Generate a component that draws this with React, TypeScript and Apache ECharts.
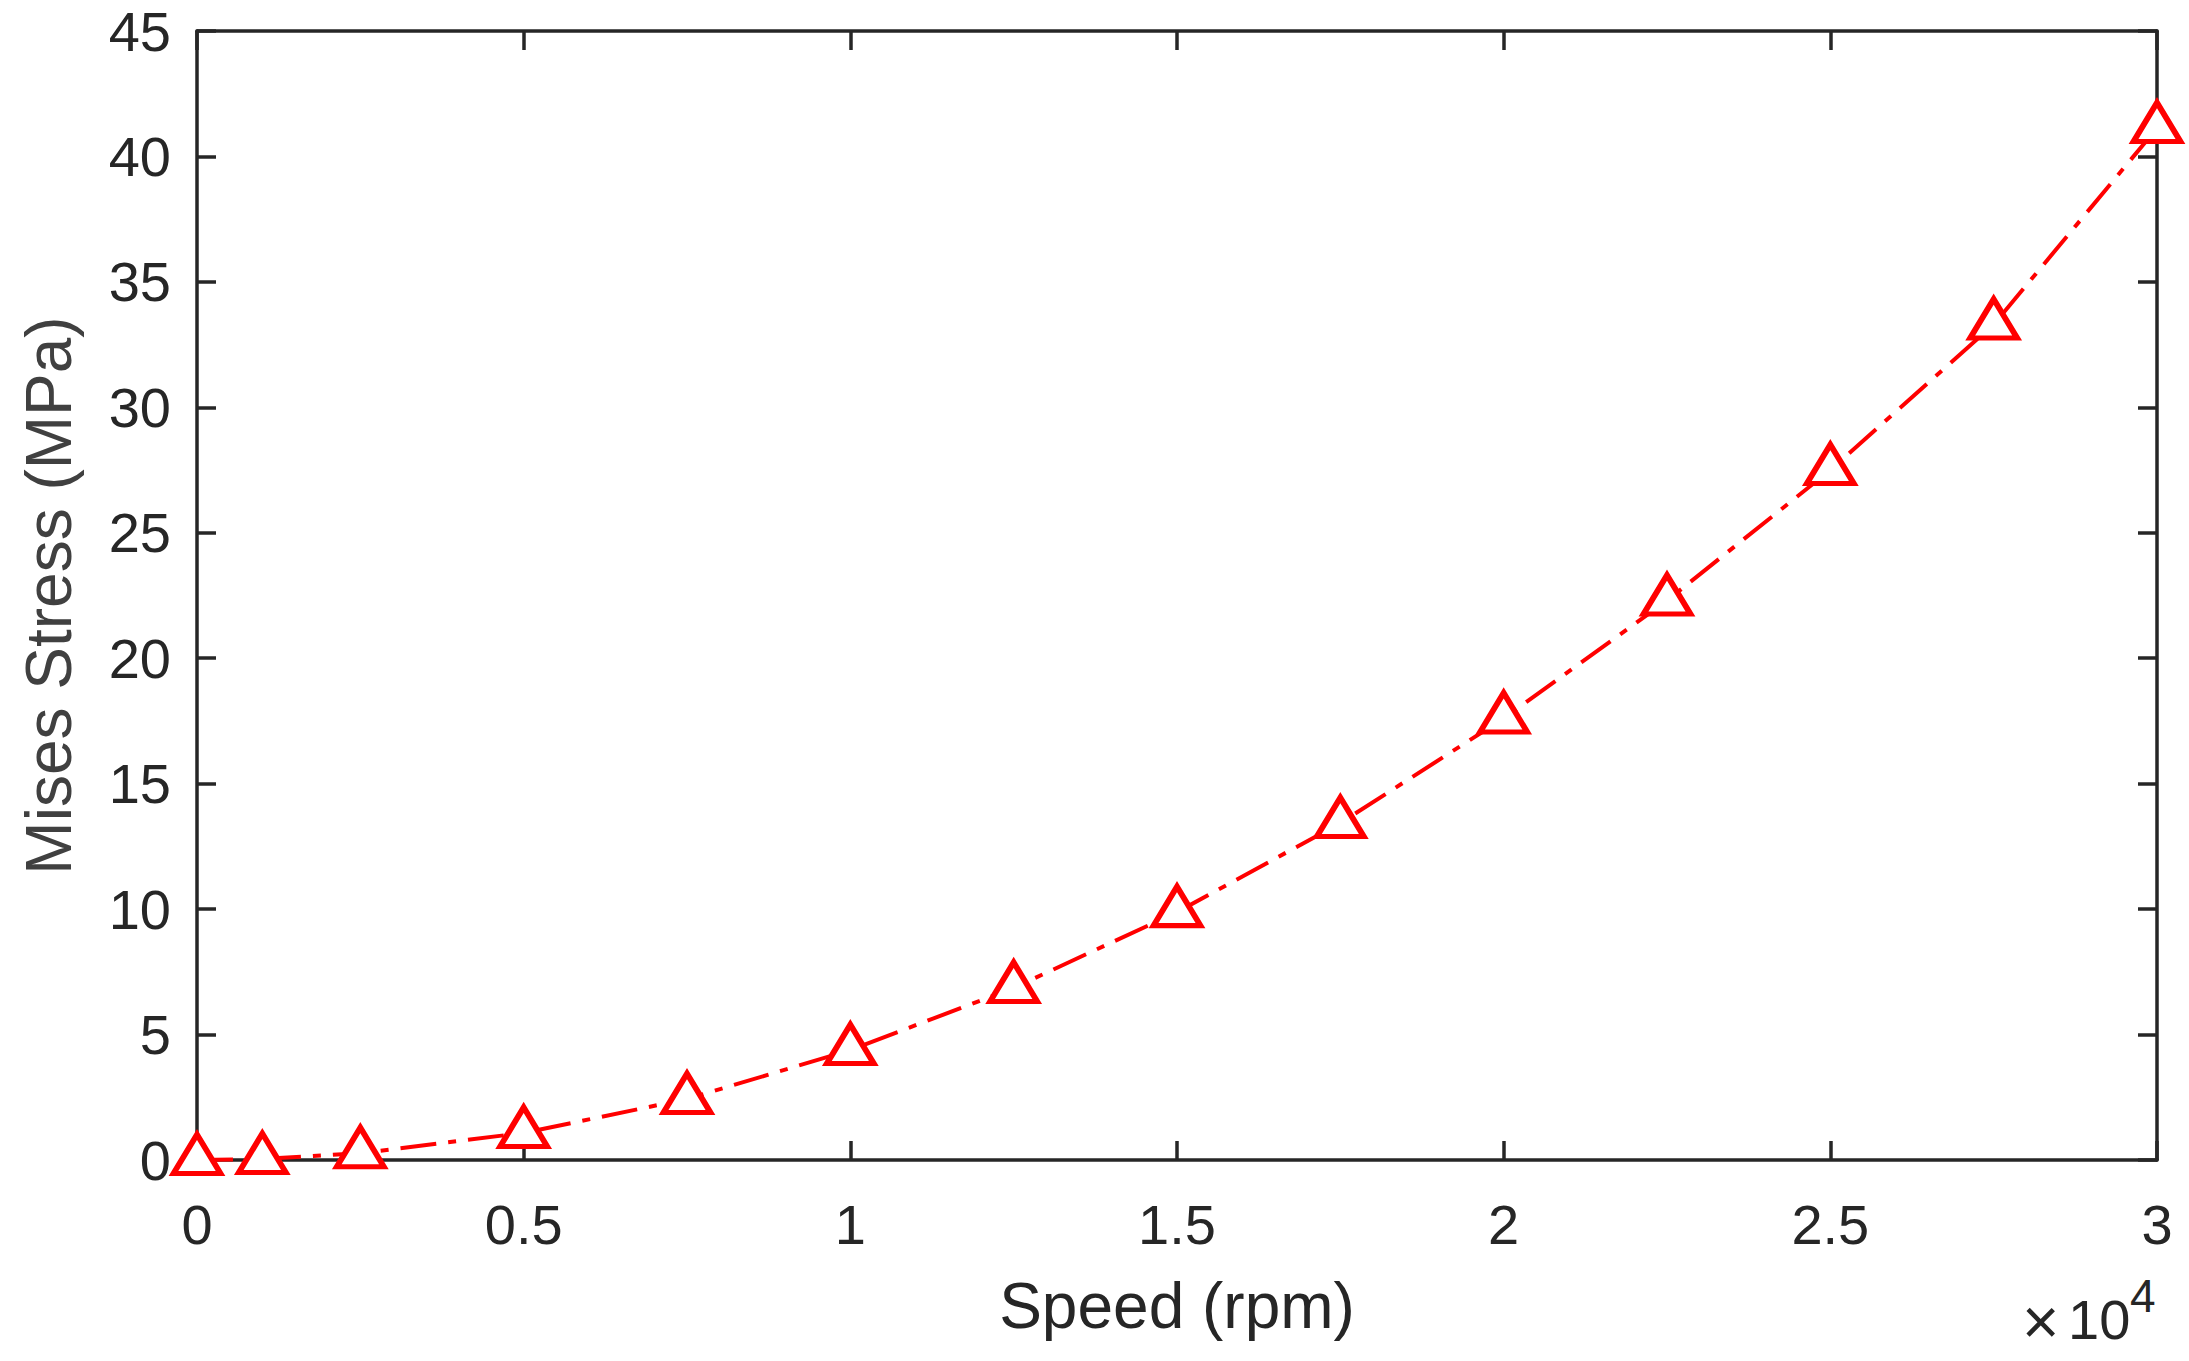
import React, { useEffect, useRef } from "react";
import * as echarts from "echarts";

const speedRpm = [0, 1000, 2500, 5000, 7500, 10000, 12500, 15000, 17500, 20000, 22500, 25000, 27500, 30000];
const stressMPa = [0, 0.04, 0.27, 1.08, 2.43, 4.38, 6.86, 9.88, 13.43, 17.6, 22.3, 27.5, 33.3, 41.13];
const xTicks = { min: 0, max: 30000, interval: 5000 };
const yTicks = { min: 0, max: 45, interval: 5 };
const xTitle = "Speed (rpm)";
const yTitle = "Mises Stress (MPa)";
const xScaleTimes = "\u00d7";
const xScaleBase = "10";
const xScaleExp = "4";

const FONT = "'Liberation Sans', Arial, Helvetica, sans-serif";
const AX = "#262626";

export default function App() {
  const ref = useRef<HTMLDivElement>(null);
  useEffect(() => {
    if (!ref.current) return;
    const chart = echarts.init(ref.current, undefined, { renderer: "svg" });
    const pts = speedRpm.map((s, i) => [s, stressMPa[i]]);
    const axisCommon = {
      axisLine: { show: true, onZero: false, lineStyle: { color: AX, width: 3.5 } },
      axisTick: { show: true, inside: true, length: 19, lineStyle: { color: AX, width: 3.5 } },
      splitLine: { show: false },
    };
    chart.setOption({
      animation: false,
      backgroundColor: "#ffffff",
      grid: { left: 197, right: 32, top: 31, bottom: 201, containLabel: false },
      xAxis: [
        {
          type: "value",
          ...xTicks,
          position: "bottom",
          ...axisCommon,
          axisLabel: {
            show: true,
            margin: 36,
            color: AX,
            fontSize: 56,
            fontFamily: FONT,
            formatter: (v: number) => String(v / 10000),
          },
          name: xTitle,
          nameLocation: "middle",
          nameGap: 114,
          nameTextStyle: { color: AX, fontSize: 64, fontFamily: FONT },
        },
        {
          type: "value",
          ...xTicks,
          position: "top",
          ...axisCommon,
          axisLabel: { show: false },
        },
      ],
      yAxis: [
        {
          type: "value",
          ...yTicks,
          position: "left",
          ...axisCommon,
          axisLabel: {
            show: true,
            margin: 26,
            color: AX,
            fontSize: 56,
            fontFamily: FONT,
          },
          name: yTitle,
          nameLocation: "middle",
          nameRotate: 90,
          nameGap: 116,
          nameTextStyle: { color: "#404040", fontSize: 64, fontFamily: FONT },
        },
        {
          type: "value",
          ...yTicks,
          position: "right",
          ...axisCommon,
          axisLabel: { show: false },
        },
      ],
      graphic: [
        {
          type: "text",
          left: 2022,
          top: 1290,
          style: { text: xScaleTimes, fill: AX, font: `64px ${FONT}` },
        },
        {
          type: "text",
          left: 2068,
          top: 1291,
          style: { text: xScaleBase, fill: AX, font: `56px ${FONT}` },
        },
        {
          type: "text",
          left: 2130,
          top: 1273,
          style: { text: xScaleExp, fill: AX, font: `46px ${FONT}` },
        },
      ],
      series: [
        {
          type: "line",
          data: pts,
          xAxisIndex: 0,
          yAxisIndex: 0,
          symbol: "triangle",
          symbolSize: [47, 39],
          symbolOffset: [0, -6],
          showSymbol: true,
          clip: false,
          z: 5,
          lineStyle: { color: "#ff0000", width: 4, type: [36, 12, 8, 12], cap: "butt" },
          itemStyle: { color: "#ffffff", borderColor: "#ff0000", borderWidth: 5.5 },
          emphasis: { disabled: true },
        },
      ],
    });
    return () => chart.dispose();
  }, []);
  return (
    <div
      ref={ref}
      style={{ position: "fixed", left: 0, top: 0, width: 2189, height: 1361, background: "#fff" }}
    />
  );
}
